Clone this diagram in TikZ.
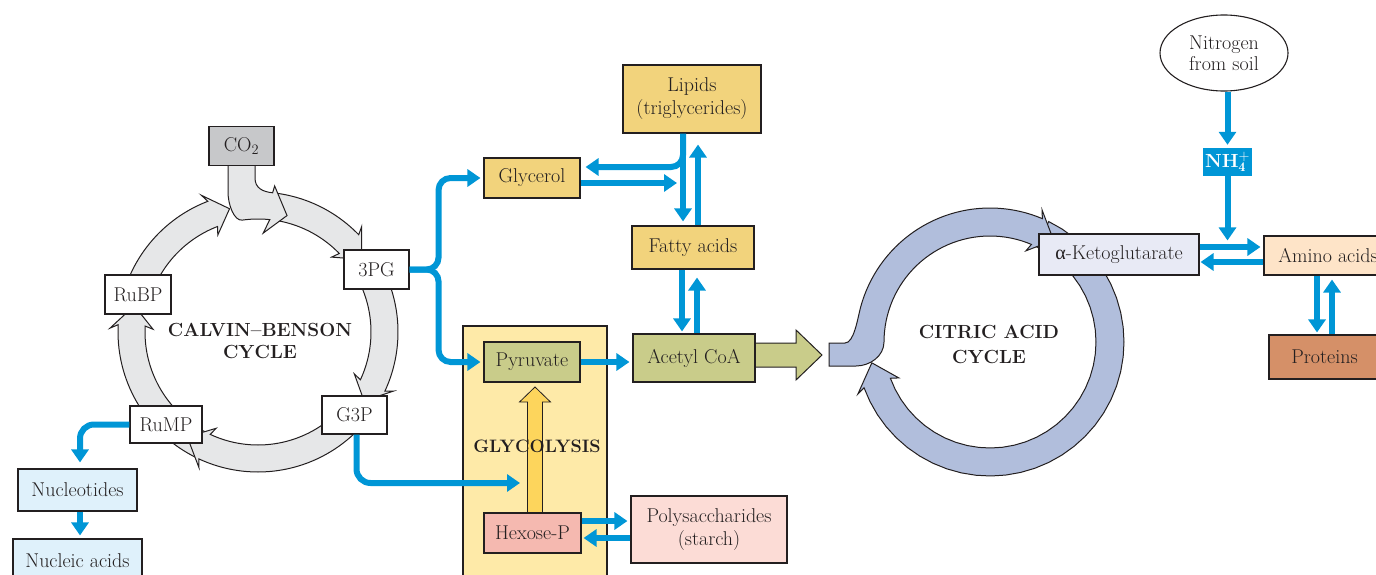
\documentclass[tikz,border=0pt]{standalone}
\usepackage{fontspec}
\newfontfamily\greekfont{Liberation Serif}
\usetikzlibrary{arrows.meta,calc,shapes.geometric}

\definecolor{ink}{HTML}{231F20}
\definecolor{flowblue}{HTML}{0096D6}
\definecolor{lipidgold}{HTML}{F2D37C}
\definecolor{olivebox}{HTML}{C9CC8A}
\definecolor{glybg}{HTML}{FEEAA8}
\definecolor{glyarrow}{HTML}{FDD55C}
\definecolor{hexosepink}{HTML}{F5B9B0}
\definecolor{polypink}{HTML}{FCDCD6}
\definecolor{co2gray}{HTML}{C7C8CA}
\definecolor{calvingray}{HTML}{E6E7E8}
\definecolor{citricblue}{HTML}{B1BEDC}
\definecolor{ketofill}{HTML}{E8EAF5}
\definecolor{aminofill}{HTML}{FEE4C8}
\definecolor{proteinfill}{HTML}{D59068}
\definecolor{nucfill}{HTML}{DFF1FB}

% ring band from angle #6 to #7 (clockwise on the page), arrow head ending at angle #8
% #1 style, #2/#3 centre, #4 outer radius, #5 inner radius
\newcommand\ringseg[8]{%
  \filldraw[#1] plot[domain=#6:#7,samples=36] ({#2+#4*cos(\x)},{#3+#4*sin(\x)})
    -- ({#2+(#4+8)*cos(#7-1.5)},{#3+(#4+8)*sin(#7-1.5)})
    -- ({#2+(#4+#5)/2*cos(#8)},{#3+(#4+#5)/2*sin(#8)})
    -- ({#2+(#5-8)*cos(#7-1.5)},{#3+(#5-8)*sin(#7-1.5)})
    -- plot[domain=#7:#6,samples=36] ({#2+#5*cos(\x)},{#3+#5*sin(\x)})
    -- cycle;}

\begin{document}
\begin{tikzpicture}[x=1pt,y=-1pt,
  every node/.style={text=ink, font=\fontsize{20}{23}\selectfont},
  bx/.style={draw=ink, line width=1.1pt, inner sep=0pt, align=center},
  flow/.style={draw=flowblue, line width=6pt, -{Triangle[length=13pt,width=17pt]}},
  lbl/.style={font=\fontsize{19}{22}\selectfont\bfseries, align=center},
  calvinring/.style={fill=calvingray, draw=ink, line width=1pt},
  citricring/.style={fill=citricblue, draw=ink, line width=1pt},
  blockarrow/.style={draw=ink, line width=1pt},
  nhbox/.style={fill=flowblue, text=white, minimum width=49pt, minimum height=28pt, inner sep=0pt,
    font=\fontsize{19}{20}\selectfont\bfseries}]

\useasboundingbox (0,0) rectangle (1376,575);
\clip (0,0) rectangle (1376,575);

% ---------------- glycolysis panel ----------------
\node[bx, fill=glybg, minimum width=144pt, minimum height=264pt] (glycbg) at (535,458) {};
\filldraw[blockarrow, fill=glyarrow, line width=0.8pt] (527.5,515) -- (527.5,402) -- (519.5,402)
  -- (535,387) -- (550.5,402) -- (542.5,402) -- (542.5,515) -- cycle;
\node[lbl, font=\fontsize{18}{20}\selectfont\bfseries] (glylbl) at (537,446) {GLYCOLYSIS};

% ---------------- Calvin--Benson cycle ----------------
\ringseg{calvinring}{258}{332}{140}{113}{278}{316}{325}
% band fed by CO2, merging into the ring
\filldraw[calvinring] (228,158) -- (228,192) .. controls (228,205) and (234.3,221.2) ..
  ({258+113*cos(262)},{332+113*sin(262)})
  -- plot[domain=262:276,samples=10] ({258+113*cos(\x)},{332+113*sin(\x)})
  -- ({258+99*cos(273)},{332+99*sin(273)})
  -- ({258+120*cos(284)},{332+120*sin(284)})
  -- ({258+147*cos(276.5)},{332+147*sin(276.5)})
  -- ({258+140*cos(276)},{332+140*sin(276)})
  .. controls (262.6,191.8) and (255,188) .. (255,178) -- (255,158) -- cycle;
\ringseg{calvinring}{258}{332}{140}{113}{198}{249}{257}
\ringseg{calvinring}{258}{332}{140}{113}{333}{385}{393}
\ringseg{calvinring}{258}{332}{140}{113}{116.5}{183}{192}
\ringseg{calvinring}{258}{332}{140}{113}{42}{115}{124}

\node[bx, fill=co2gray, minimum width=65pt, minimum height=39pt] (co2) at (241.5,146) {CO$_2$};
\node[bx, fill=white, minimum width=65pt, minimum height=39pt] (pg3) at (376.5,269.5) {3PG};
\node[bx, fill=white, minimum width=66pt, minimum height=39pt] (rubp) at (138,294.5) {RuBP};
\node[bx, fill=white, minimum width=65pt, minimum height=38pt] (g3p) at (354.5,415) {G3P};
\node[bx, fill=white, minimum width=72pt, minimum height=37pt] (rump) at (166,424.5) {RuMP};
\node[lbl] (calvinlbl) at (260,341) {CALVIN--BENSON\\CYCLE};

\node[bx, fill=nucfill, minimum width=119pt, minimum height=42pt] (nucleotides) at (77.5,490) {Nucleotides};
\node[bx, fill=nucfill, minimum width=129pt, minimum height=44pt] (nucleic) at (77.5,561) {Nucleic acids};

% ---------------- citric acid cycle ----------------
\ringseg{citricring}{990}{342}{134}{106}{296}{520}{530}
\filldraw[citricring] (829,343) -- (845,343) .. controls (854,343) and (857.5,319) ..
  ({990+134*cos(195)},{342+134*sin(195)})
  -- plot[domain=195:293,samples=40] ({990+134*cos(\x)},{342+134*sin(\x)})
  -- ({990+142*cos(291.5)},{342+142*sin(291.5)})
  -- ({990+120*cos(302)},{342+120*sin(302)})
  -- ({990+98*cos(291.5)},{342+98*sin(291.5)})
  -- plot[domain=293:180,samples=40] ({990+106*cos(\x)},{342+106*sin(\x)})
  .. controls (884,356) and (870,366) .. (856,366) -- (829,366) -- cycle;
\node[lbl, font=\fontsize{19}{25}\selectfont\bfseries] (citriclbl) at (989,344.5) {CITRIC ACID\\CYCLE};

% ---------------- lipids, pyruvate, acetyl CoA ----------------
\filldraw[blockarrow, fill=olivebox] (750,343) -- (796,343) -- (796,330) -- (822,355)
  -- (796,380) -- (796,367) -- (750,367) -- cycle;

\node[bx, fill=lipidgold, minimum width=138pt, minimum height=68pt] (lipids) at (692,99) {Lipids\\(triglycerides)};
\node[bx, fill=lipidgold, minimum width=96pt, minimum height=40pt] (glycerol) at (532,178) {Glycerol};
\node[bx, fill=lipidgold, minimum width=122pt, minimum height=43pt] (fatty) at (693,247.5) {Fatty acids};
\node[bx, fill=olivebox, minimum width=96pt, minimum height=40pt] (pyruvate) at (532,362) {Pyruvate};
\node[bx, fill=olivebox, minimum width=122pt, minimum height=48pt] (acetyl) at (694,358) {Acetyl CoA};
\node[bx, fill=hexosepink, minimum width=97pt, minimum height=40pt] (hexose) at (532.5,533) {Hexose-P};
\node[bx, fill=polypink, minimum width=156pt, minimum height=67pt] (polysac) at (709,529.5) {Polysaccharides\\(starch)};

% ---------------- nitrogen side ----------------
\node[bx, fill=ketofill, minimum width=160pt, minimum height=41pt] (keto) at (1119,254.5) {{\greekfont α}-Ketoglutarate};
\node[bx, fill=aminofill, minimum width=128pt, minimum height=39pt] (amino) at (1328,255.5) {Amino acids};
\node[bx, fill=proteinfill, minimum width=111pt, minimum height=44pt] (proteins) at (1324.5,357) {Proteins};
\node[ellipse, draw=ink, line width=1.1pt, fill=white, minimum width=128pt, minimum height=76pt,
  inner sep=0pt, align=center, font=\fontsize{20}{21}\selectfont] (nitrogen) at (1224,53) {Nitrogen\\from soil};
\node[nhbox] (nh4) at (1227.5,162) {NH$_{\mathbf{4}}^{\mathbf{+}}$};

% ---------------- connection points ----------------
\coordinate (glyin) at (520,483);
\coordinate (hx1) at ($(hexose.east)+(0,-12)$);
\coordinate (hx2) at ($(hexose.east)+(0,5)$);
\coordinate (lpd) at ($(lipids.south)+(-9,0)$);
\coordinate (gl1) at ($(glycerol.east)+(0,-11)$);
\coordinate (gl2) at ($(glycerol.east)+(0,5)$);
\coordinate (gj) at ($(lpd |- gl2)+(-6,0)$);
\coordinate (fu) at ($(fatty.north)+(5,0)$);
\coordinate (fd) at ($(fatty.south)+(-11,0)$);
\coordinate (au) at ($(acetyl.north)+(3,0)$);
\coordinate (nhend) at ($(nh4.south |- keto.north)+(0,7)$);
\coordinate (k1) at ($(keto.east)+(0,-7.5)$);
\coordinate (k2) at ($(keto.east)+(0,7.5)$);
\coordinate (ad) at ($(amino.south)+(-11,0)$);
\coordinate (pu) at ($(amino.south)+(4,0)$);
\coordinate (nt) at ($(nucleotides.north)+(2.5,0)$);

% ---------------- blue flow arrows ----------------
\draw[flow, rounded corners=12pt, shorten >=3pt] (pg3.east) -- ++(29,0) |- (glycerol.west);
\draw[flow, rounded corners=12pt, shorten >=3pt] (pg3.east) -- ++(29,0) |- (pyruvate.west);
\draw[flow, rounded corners=14pt] ([xshift=2pt]g3p.south) |- (glyin);
\draw[flow, shorten >=3pt] (pyruvate.east) -- (pyruvate.east -| acetyl.west);
\draw[flow, shorten >=3pt] (hx1) -- (hx1 -| polysac.west);
\draw[flow, shorten >=2pt] (hx2 -| polysac.west) -- (hx2);

\draw[flow, rounded corners=12pt, shorten >=5pt] (lpd) |- (gl1);
\draw[flow, shorten >=4pt] (lpd) -- (lpd |- fatty.north);
\draw[flow] (gl2) -- (gj);
\draw[flow, shorten >=11pt] (fu) -- (fu |- lipids.south);
\draw[flow, shorten >=2pt] (fd) -- (fd |- acetyl.north);
\draw[flow, shorten >=8pt] (au) -- (au |- fatty.south);

\draw[flow, shorten >=3pt] (nh4.north |- nitrogen.south) -- (nh4.north);
\draw[flow] (nh4.south) -- (nhend);
\draw[flow, shorten >=3pt] (k1) -- (k1 -| amino.west);
\draw[flow, shorten >=1pt] (k2 -| amino.west) -- (k2);
\draw[flow, shorten >=2pt] (ad) -- (ad |- proteins.north);
\draw[flow, shorten >=4pt] (pu |- proteins.north) -- (pu);

\draw[flow, rounded corners=14pt, shorten >=6pt] (rump.west) -| (nt);
\draw[flow, shorten >=3pt] ([xshift=2.5pt]nucleotides.south) -- ([xshift=2.5pt]nucleic.north);
\end{tikzpicture}
\end{document}
